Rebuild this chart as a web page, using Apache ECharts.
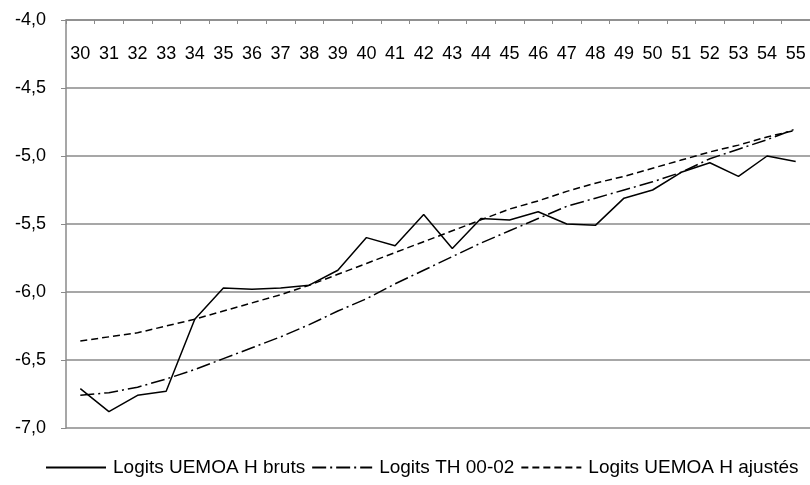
<!DOCTYPE html>
<html>
<head>
<meta charset="utf-8">
<script src="https://cdn.jsdelivr.net/npm/echarts@6/dist/echarts.min.js"></script>
<style>
  html, body { margin: 0; padding: 0; background: #fff; }
  #chart { width: 810px; height: 485px; }
</style>
</head>
<body>
<div id="chart"></div>
<script>
const ages = ["30", "31", "32", "33", "34", "35", "36", "37", "38", "39", "40", "41", "42",
  "43", "44", "45", "46", "47", "48", "49", "50", "51", "52", "53", "54", "55"];

const bruts = [-6.71, -6.88, -6.76, -6.73, -6.20, -5.97, -5.98, -5.97, -5.95, -5.84, -5.60, -5.66, -5.43,
  -5.68, -5.46, -5.47, -5.41, -5.50, -5.51, -5.31, -5.25, -5.12, -5.05, -5.15, -5.00, -5.04];

const th0002 = [-6.76, -6.74, -6.70, -6.64, -6.57, -6.49, -6.41, -6.33, -6.24, -6.14, -6.05, -5.94, -5.84,
  -5.74, -5.64, -5.55, -5.46, -5.37, -5.31, -5.25, -5.19, -5.12, -5.02, -4.95, -4.88, -4.80];

const ajustes = [-6.36, -6.33, -6.30, -6.25, -6.20, -6.14, -6.08, -6.02, -5.95, -5.87, -5.79, -5.71, -5.63,
  -5.55, -5.47, -5.39, -5.33, -5.26, -5.20, -5.15, -5.09, -5.03, -4.97, -4.92, -4.86, -4.81];

const names = ["Logits UEMOA H bruts", "Logits TH 00-02", "Logits UEMOA H ajustés"];

const font = "'Liberation Sans', Arial, sans-serif";
const gray = "#8a8a8a";

const chart = echarts.init(document.getElementById("chart"));

function lineSeries(name, data, type) {
  return {
    name,
    type: "line",
    data,
    symbol: "none",
    showSymbol: false,
    color: "#000",
    lineStyle: { color: "#000", width: 1.5, type },
  };
}

chart.setOption({
  backgroundColor: "#fff",
  animation: false,
  grid: { left: 66, right: 0, top: 20, bottom: 57 },
  xAxis: {
    type: "category",
    data: ages,
    position: "top",
    boundaryGap: true,
    axisLine: { show: true, lineStyle: { color: gray, width: 1.5 } },
    axisTick: { show: true, inside: true, length: 4, lineStyle: { color: gray } },
    axisLabel: {
      inside: true,
      margin: 25,
      interval: 0,
      color: "#000",
      fontSize: 18,
      fontFamily: font,
    },
    splitLine: { show: false },
  },
  yAxis: {
    type: "value",
    min: -7,
    max: -4,
    interval: 0.5,
    axisLine: { show: true, lineStyle: { color: gray, width: 1.5 } },
    axisTick: { show: true, length: 5, lineStyle: { color: gray } },
    axisLabel: {
      margin: 20,
      color: "#000",
      fontSize: 18,
      fontFamily: font,
      formatter: (v) => v.toFixed(1).replace(".", ","),
    },
    splitLine: { show: true, lineStyle: { color: gray, width: 1.5 } },
  },
  legend: {
    bottom: 3,
    left: 40,
    itemWidth: 60,
    itemHeight: 10,
    itemGap: 6,
    itemStyle: { opacity: 0 },
    textStyle: { color: "#000", fontSize: 19, fontFamily: font, padding: [0, 0, 0, 2] },
    data: names,
  },
  series: [
    lineSeries(names[0], bruts, "solid"),
    lineSeries(names[1], th0002, [14, 4, 2, 4]),
    lineSeries(names[2], ajustes, [7, 4]),
  ],
});
</script>
</body>
</html>
